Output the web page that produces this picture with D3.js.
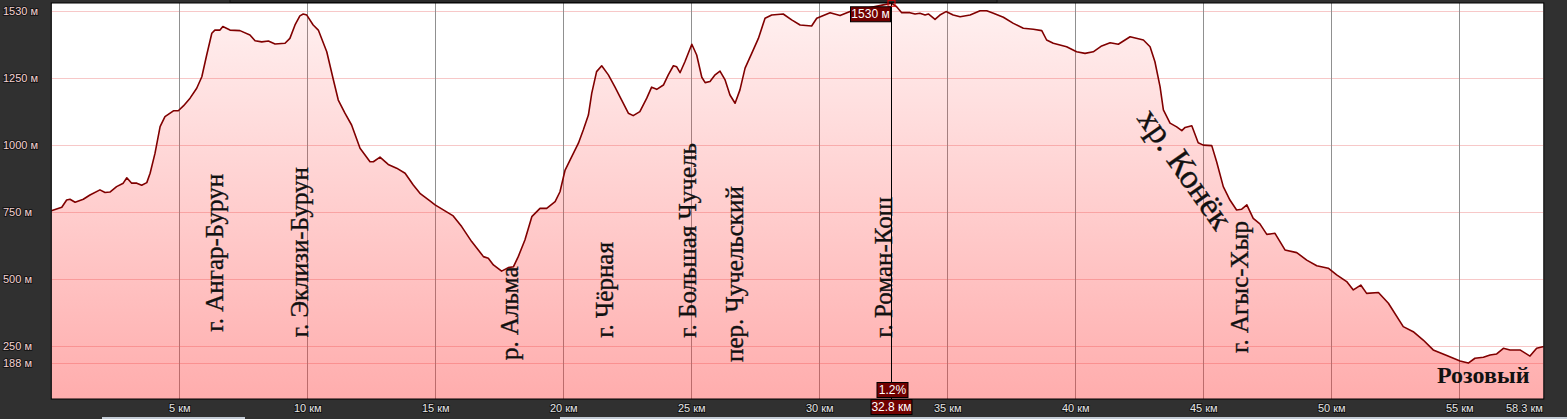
<!DOCTYPE html>
<html>
<head>
<meta charset="utf-8">
<script src="https://cdn.jsdelivr.net/npm/d3@7"></script>
<style>
html, body { margin: 0; padding: 0; background: #303030; overflow: hidden; }
svg { display: block; }
</style>
</head>
<body>
<svg id="chart"></svg>
<script>
// Track profile: distance (km) and elevation (m)
var dist = [0,0.41,0.6,0.73,0.93,1.25,1.51,1.9,2.1,2.29,2.55,2.81,2.95,3.14,3.34,3.53,3.73,3.86,4.05,4.25,
	4.44,4.77,4.96,5.16,5.42,5.68,5.88,6.07,6.27,6.39,6.59,6.7,6.98,7.37,7.76,7.96,8.22,8.48,8.74,9.13,
	9.32,9.52,9.71,9.84,9.98,10.23,10.43,10.76,11.02,11.21,11.47,11.73,12.06,12.45,12.58,12.84,13.16,13.49,13.82,14.14,
	14.4,14.79,
	14.99,15.7,16.03,16.42,16.68,16.88,17.07,17.27,17.59,17.85,18.05,18.24,18.5,18.77,19.09,19.35,19.68,19.87,20.07,20.33,
	20.59,20.78,20.98,21.11,21.3,21.5,21.76,22.02,22.28,22.54,22.73,22.99,23.26,23.45,23.65,23.91,24.1,24.3,24.43,24.56,
	24.75,25.02,25.21,25.41,25.54,25.73,25.93,26.12,26.32,26.51,26.71,26.9,27.1,27.36,27.62,27.88,28.14,28.59,28.92,29.25,
	29.7,29.9,30.42,30.81,31.2,31.85,32.5,32.83,33.02,33.22,33.54,33.74,33.93,34.13,34.26,34.52,34.71,34.95,35.23,35.5,
	35.89,36.28,36.54,36.8,37.19,37.58,37.97,38.36,38.69,38.88,39.14,39.66,40.05,40.38,40.7,41.03,41.36,41.68,42.14,42.66,
	42.92,43.11,43.31,43.44,43.7,43.96,
	44.16,44.29,44.55,44.8,45.0,45.33,45.52,45.78,46.04,46.3,46.5,46.7,46.95,47.21,47.48,47.8,48.19,48.65,49.04,49.43,
	49.88,50.21,50.6,50.86,51.15,51.38,51.84,52.23,52.81,53.2,53.59,53.98,54.51,55.03,55.35,55.61,55.94,56.2,56.46,56.72,
	56.98,57.37,57.76,58.02,58.3];
var elev = [756,769,796,799,788,799,815,834,824,826,846,859,879,859,859,851,861,896,970,1070,
	1107,1129,1129,1147,1176,1213,1256,1337,1418,1430,1430,1443,1430,1428,1412,1390,1386,1389,1378,1381,
	1399,1449,1483,1490,1486,1449,1430,1349,1244,1169,1120,1076,989,939,939,956,929,915,896,852,
	821,793,
	778,737,697,641,610,585,579,554,531,544,547,585,647,734,765,765,790,827,908,958,
	1008,1057,1113,1194,1275,1297,1263,1217,1169,1120,1111,1126,1176,1217,1209,1225,1263,1297,1293,1271,
	1312,1377,1337,1254,1234,1238,1263,1277,1244,1188,1157,1207,1288,1343,1399,1474,1486,1490,1468,1449,
	1445,1474,1495,1484,1499,1511,1524,1530,1517,1495,1495,1490,1493,1486,1490,1470,1486,1499,1486,1480,
	1486,1502,1502,1493,1478,1455,1437,1433,1428,1393,1381,1368,1349,1343,1349,1371,1383,1377,1405,1393,
	1368,1312,1219,1132,1083,1069,
	1055,1067,1073,1010,1001,999,939,846,796,759,762,778,728,707,668,672,610,600,572,551,
	542,517,492,461,479,448,451,411,324,305,274,237,216,196,188,206,210,218,222,243,
	237,237,214,243,250];

// Axis ticks
var xTicks = [5, 10, 15, 20, 25, 30, 35, 40, 45, 50, 55];
var totalKm = 58.3;
var yTickValues = [188, 250, 500, 750, 1000, 1250, 1500];
var yTickLabels = ['188 м', '250 м', '500 м', '750 м', '1000 м', '1250 м', '1530 м'];

// Place names along the track (rotated labels)
var placeNames = ['г. Ангар-Бурун', 'г. Эклизи-Бурун', 'р. Альма', 'г. Чёрная', 'г. Большая Чучель',
	'пер. Чучельский', 'г. Роман-Кош', 'г. Агыс-Хыр'];
var placeKm = [6.39, 9.71, 17.9, 21.61, 24.87, 26.69, 32.49, 46.43];
var placeElev = [305, 284, 199, 282, 282, 192, 282, 226];
var ridgeName = 'хр. Конёк';
var ridgeKm = 42.75, ridgeElev = 1125;
var endName = 'Розовый';
var endKm = 54.13, endElev = 114;

// Cursor readout
var cursorKm = 32.8;
var cursorElev = 1530;
var cursorGrade = '1.2%';

var total_width = 1567;
var total_height = 419;
var margin = { top: 3, right: 23.2, bottom: 20, left: 51.3 };
var y_min = 54, y_max = 1531;

var svg = d3.select('#chart')
	.attr('width', total_width)
	.attr('height', total_height);

var x = d3.scaleLinear().domain([0, totalKm]).range([margin.left, total_width - margin.right]);
var y = d3.scaleLinear().domain([y_min, y_max]).range([total_height - margin.bottom, margin.top]);

var plotTop = margin.top, plotBottom = total_height - margin.bottom;
var plotLeft = margin.left, plotRight = total_width - margin.right;

// Background strips
svg.append('rect').attr('x', 0).attr('y', 0).attr('width', total_width).attr('height', total_height).attr('fill', '#303030');
svg.append('rect').attr('x', 230).attr('y', -2).attr('width', 767).attr('height', 4.5)
	.attr('fill', '#2a2a2a').attr('stroke', '#111').attr('stroke-width', 1);
svg.append('rect').attr('x', 102).attr('y', 417).attr('width', 143).attr('height', 3).attr('fill', '#c4ccd6');
svg.append('rect').attr('x', 560).attr('y', 417).attr('width', 1007).attr('height', 3).attr('fill', '#c4ccd6');

var defs = svg.append('defs');
defs.append('clipPath').attr('id', 'plotclip')
	.append('rect')
	.attr('x', plotLeft).attr('y', plotTop)
	.attr('width', plotRight - plotLeft).attr('height', plotBottom - plotTop);

var grad = defs.append('linearGradient')
	.attr('id', 'fillgrad')
	.attr('gradientUnits', 'userSpaceOnUse')
	.attr('x1', 0).attr('x2', 0)
	.attr('y1', plotTop).attr('y2', plotBottom);
grad.append('stop').attr('offset', 0).attr('stop-color', 'rgb(255,50,50)').attr('stop-opacity', 0.07);
grad.append('stop').attr('offset', 1).attr('stop-color', 'rgb(255,50,50)').attr('stop-opacity', 0.4);

// Plot area
svg.append('rect')
	.attr('x', plotLeft).attr('y', plotTop)
	.attr('width', plotRight - plotLeft).attr('height', plotBottom - plotTop)
	.attr('fill', '#ffffff');

var main = svg.append('g').attr('clip-path', 'url(#plotclip)');

// Horizontal grid
main.selectAll('.hgrid')
	.data(yTickValues)
	.enter()
	.append('line')
	.attr('class', 'hgrid')
	.attr('x1', plotLeft).attr('x2', plotRight)
	.attr('y1', function(d) { return Math.round(y(d)) + 0.5; })
	.attr('y2', function(d) { return Math.round(y(d)) + 0.5; })
	.attr('stroke', '#f7c8c8')
	.attr('stroke-width', 1);

// Vertical grid
main.selectAll('.vgrid')
	.data(xTicks)
	.enter()
	.append('line')
	.attr('class', 'vgrid')
	.attr('y1', plotTop).attr('y2', plotBottom)
	.attr('x1', function(d) { return Math.round(x(d)) + 0.5; })
	.attr('x2', function(d) { return Math.round(x(d)) + 0.5; })
	.attr('stroke', '#909090')
	.attr('stroke-width', 1);

var points = d3.range(dist.length).map(function(i) { return [dist[i], elev[i]]; });

var area = d3.area()
	.x(function(d) { return x(d[0]); })
	.y0(plotBottom)
	.y1(function(d) { return y(d[1]); });
var line = d3.line()
	.x(function(d) { return x(d[0]); })
	.y(function(d) { return y(d[1]); });

main.append('path').datum(points).attr('d', area).attr('fill', 'url(#fillgrad)');
main.append('path').datum(points).attr('d', line)
	.attr('fill', 'none')
	.attr('stroke', '#800000')
	.attr('stroke-width', 1.6)
	.attr('stroke-linejoin', 'round');

// Place labels
main.selectAll('.place')
	.data(placeNames)
	.enter()
	.append('text')
	.attr('class', 'place')
	.attr('transform', function(d, i) {
		return 'translate(' + x(placeKm[i]) + ',' + y(placeElev[i]) + ') rotate(-90)';
	})
	.attr('dominant-baseline', 'central')
	.attr('font-family', '"Liberation Serif", "Times New Roman", serif')
	.attr('font-size', '25px')
	.attr('fill', '#111')
	.attr('stroke', '#111')
	.attr('stroke-width', 0.35)
	.text(function(d) { return d; });

main.append('text')
	.attr('transform', 'translate(' + x(ridgeKm) + ',' + y(ridgeElev) + ') rotate(55)')
	.attr('dominant-baseline', 'central')
	.attr('font-family', '"Liberation Serif", "Times New Roman", serif')
	.attr('font-size', '34px')
	.attr('fill', '#111')
	.attr('stroke', '#111')
	.attr('stroke-width', 0.35)
	.text(ridgeName);

main.append('text')
	.attr('x', x(endKm)).attr('y', y(endElev))
	.attr('font-family', '"Liberation Serif", "Times New Roman", serif')
	.attr('font-size', '24px')
	.attr('font-weight', 'bold')
	.attr('fill', '#111')
	.text(endName);

// Plot border
svg.append('rect')
	.attr('x', plotLeft).attr('y', plotTop)
	.attr('width', plotRight - plotLeft).attr('height', plotBottom - plotTop)
	.attr('fill', 'none').attr('stroke', '#000').attr('stroke-width', 1);

// Y labels
svg.selectAll('.ylabel')
	.data(yTickValues)
	.enter()
	.append('text')
	.attr('class', 'ylabel')
	.attr('x', 3)
	.attr('y', function(d) { return y(d); })
	.attr('dominant-baseline', 'central')
	.attr('font-family', '"Liberation Sans", Arial, sans-serif')
	.attr('font-size', '11px')
	.attr('fill', '#f4d2d2')
	.attr('stroke', 'rgba(0,0,0,0.55)')
	.attr('stroke-width', 2)
	.attr('paint-order', 'stroke')
	.text(function(d, i) { return yTickLabels[i]; });

// X axis labels
var xAxis = d3.axisBottom(x)
	.tickValues(xTicks)
	.tickSize(0)
	.tickPadding(5)
	.tickFormat(function(d) { return d + ' км'; });
var gx = svg.append('g')
	.attr('transform', 'translate(0,' + plotBottom + ')')
	.call(xAxis);
gx.select('.domain').remove();
gx.selectAll('text')
	.attr('font-family', '"Liberation Sans", Arial, sans-serif')
	.attr('font-size', '11px')
	.attr('fill', '#e4e4e4')
	.attr('stroke', 'rgba(0,0,0,0.55)')
	.attr('stroke-width', 2)
	.attr('paint-order', 'stroke');

svg.append('text')
	.attr('x', x(totalKm) - 1)
	.attr('y', plotBottom + 13)
	.attr('text-anchor', 'end')
	.attr('font-family', '"Liberation Sans", Arial, sans-serif')
	.attr('font-size', '11px')
	.attr('fill', '#e4e4e4')
	.attr('stroke', 'rgba(0,0,0,0.55)')
	.attr('stroke-width', 2)
	.attr('paint-order', 'stroke')
	.text(totalKm + ' км');

// Cursor
var cx = Math.round(x(cursorKm)) + 0.5;
svg.append('line')
	.attr('x1', cx).attr('x2', cx)
	.attr('y1', plotTop).attr('y2', plotBottom)
	.attr('stroke', '#000').attr('stroke-width', 1);
svg.append('rect')
	.attr('x', cx - 3.5).attr('y', y(cursorElev) - 3)
	.attr('width', 7).attr('height', 6)
	.attr('fill', 'none').attr('stroke', '#e00000').attr('stroke-width', 1);

function tagBox(cxBox, cyBox, w, h, label) {
	var g = svg.append('g');
	g.append('rect')
		.attr('x', cxBox - w / 2).attr('y', cyBox - h / 2)
		.attr('width', w).attr('height', h)
		.attr('fill', '#700000').attr('stroke', '#000').attr('stroke-width', 1);
	g.append('text')
		.attr('x', cxBox).attr('y', cyBox)
		.attr('text-anchor', 'middle')
		.attr('dominant-baseline', 'central')
		.attr('font-family', '"Liberation Sans", Arial, sans-serif')
		.attr('font-size', '12px')
		.attr('fill', '#fff')
		.text(label);
}
tagBox(cx - 21, y(cursorElev) + 11, 40, 15, cursorElev + ' м');
tagBox(cx + 1, plotBottom - 9, 31, 15, cursorGrade);
tagBox(cx, plotBottom + 8, 41, 15, cursorKm + ' км');
</script>
</body>
</html>
